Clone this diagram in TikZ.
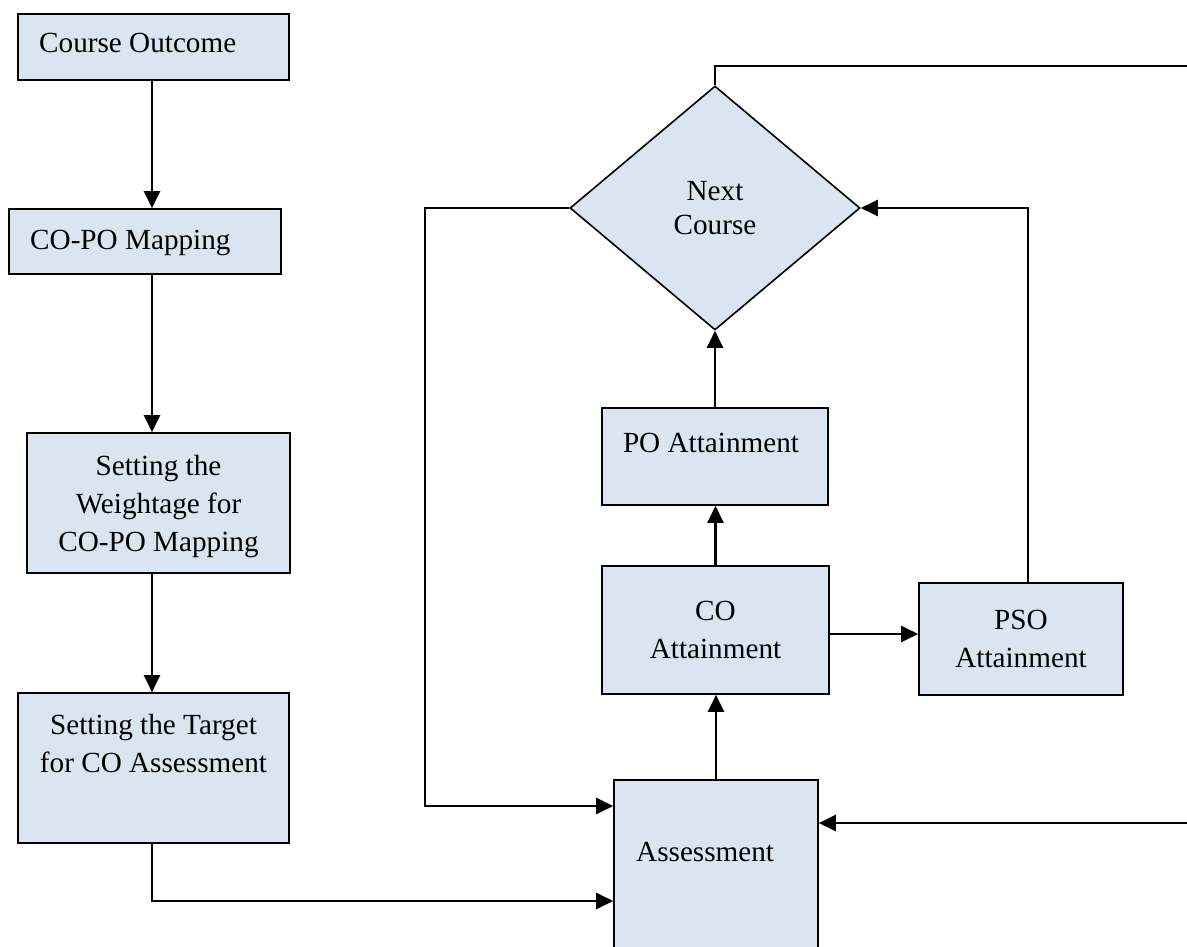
\documentclass[tikz,border=0pt]{standalone}
\usepackage{fontspec}
\setmainfont{Liberation Serif}
\usetikzlibrary{arrows.meta,shapes.geometric}
\definecolor{boxfill}{HTML}{DBE5F1}
\tikzset{
  box/.style={rectangle, draw=black, line width=1.6pt, fill=boxfill, inner sep=0pt},
  decision/.style={diamond, draw=black, line width=1.6pt, fill=boxfill, inner sep=0pt,
    minimum width=290pt, minimum height=244pt, align=center,
    font=\fontsize{29.2}{34}\selectfont},
  lbl/.style={inner sep=0pt, font=\fontsize{29.2}{38}\selectfont},
  link/.style={line width=2.2pt},
  flow/.style={link, -{Triangle[length=17pt,width=16pt]}},
}
\begin{document}
\begin{tikzpicture}[x=1pt, y=-1pt]
\useasboundingbox (0,0) rectangle (1187,947);
\clip (0,0) rectangle (1187,947);

% left column
\node[box, minimum width=271pt, minimum height=66pt]  (co)   at (153.5,47)  {};
\node[box, minimum width=272pt, minimum height=65pt]  (copo) at (145,241.5) {};
\node[box, minimum width=263pt, minimum height=140pt] (wt)   at (158.5,503) {};
\node[box, minimum width=271pt, minimum height=150pt] (tg)   at (153.5,768) {};

\node[lbl, anchor=base west] (coT)   at (39,53)  {Course Outcome};
\node[lbl, anchor=base west] (copoT) at (30,249) {CO-PO Mapping};
\node[lbl, anchor=north, align=center] (wtT) at (158.5,455) {Setting the\\Weightage for\\CO-PO Mapping};
\node[lbl, anchor=north, align=center] (tgT) at (153.5,714) {Setting the Target\\for CO Assessment};

% right part
\node[box, minimum width=204pt, minimum height=180pt] (as)  at (716,870)   {};
\node[lbl, anchor=base west] (asT) at (636,861) {Assessment};
\node[box, lbl, minimum width=227pt, minimum height=128pt, align=center] (coa) at (715.5,630) {CO\\Attainment};
\node[box, minimum width=226pt, minimum height=97pt] (poa) at (715,456.5) {};
\node[lbl, anchor=base] (poaT) at (711,452) {PO Attainment};
\node[box, lbl, minimum width=204pt, minimum height=112pt, align=center] (pso) at (1021,639) {PSO\\Attainment};
\node[decision] (nc) at (715,208) {Next\\Course};

% routing points
\coordinate (lc) at (152,0);
\coordinate (jb) at (152,901);
\coordinate (jl) at (425,806);
\coordinate (jr) at (1028,208);
\coordinate (cy) at (0,634);
\coordinate (tr) at (1187,66);
\coordinate (br) at (1187,823);

% connectors
\draw[flow] (co.south -| lc) -- (copo.north -| lc);
\draw[flow] (copo.south -| lc) -- (wt.north -| lc);
\draw[flow] (wt.south -| lc) -- (tg.north -| lc);
\draw[flow] (tg.south -| jb) -- (jb) -- (as.west |- jb);
\draw[flow] (nc.west) -| (jl) -- (as.west |- jl);
\draw[flow] (as.north) -- (coa.south -| as.north);
\draw[flow] (coa.north) -- (poa.south -| coa.north);
\draw[flow] (poa.north) -- (nc.south);
\draw[flow] (coa.east |- cy) -- (pso.west |- cy);
\draw[flow] (pso.north -| jr) -- (jr) -- (nc.east);
\draw[link] (nc.north) |- (tr);
\draw[flow] (br) -- (as.east |- br);
\end{tikzpicture}
\end{document}
